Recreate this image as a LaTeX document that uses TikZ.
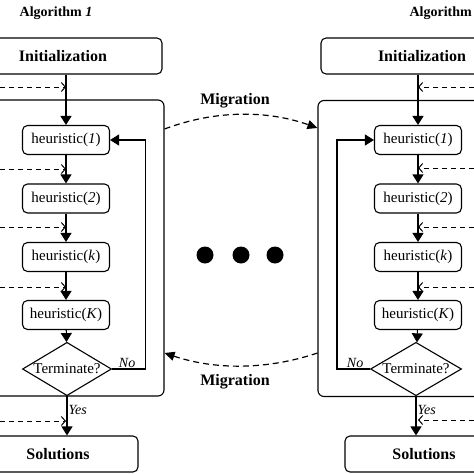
\documentclass[tikz,border=0pt]{standalone}
\usepackage{fontspec}
\setmainfont{Liberation Serif}
\usetikzlibrary{arrows.meta,shapes.geometric,positioning}

\tikzset{
  stage/.style={draw, line width=1.1pt, rounded corners=5pt, minimum height=36pt, font=\fontsize{16}{18}\selectfont\bfseries},
  heur/.style={draw, line width=1.1pt, rounded corners=5pt, minimum width=87pt, minimum height=29pt, font=\fontsize{15}{17}\selectfont},
  test/.style={draw, diamond, line width=1.1pt, inner sep=-6pt, minimum width=89pt, minimum height=37pt, font=\fontsize{15}{17}\selectfont},
  island/.style={draw, line width=1.1pt, rounded corners=6pt, minimum height=296pt},
  flow/.style={line width=1.1pt, -{Triangle[width=11pt,length=9pt]}},
  feed/.style={line width=1pt, dash pattern=on 5pt off 4pt, -{Straight Barb[length=4pt,width=9pt]}},
  migr/.style={line width=1.2pt, dash pattern=on 6pt off 4pt, -{Triangle[width=9pt,length=10pt]}},
  lab/.style={font=\fontsize{14}{16}\selectfont\itshape, inner sep=1pt},
  head/.style={font=\fontsize{14}{16}\selectfont\bfseries},
  mig/.style={font=\fontsize{16}{18}\selectfont\bfseries},
}

\begin{document}
\begin{tikzpicture}[x=1pt,y=-1pt]
\useasboundingbox (0,0) rectangle (474,474);
\clip (0,0) rectangle (474,474);

% Islands
\node[island, minimum width=204pt] (islandL) at (62,248) {};
\node[island, minimum width=202pt] (islandR) at (419,248.5) {};

% Headings
\node[head] (algL) at (56,13) {Algorithm \textit{1}};
\node[head, anchor=west] (algR) at (406,13) {Algorithm};

% Left algorithm
\node[stage, minimum width=198pt] (initL) at (63,56) {Initialization};
\node[heur] (h1L) at (66,140) {heuristic(\textit{1})};
\node[heur] (h2L) at (66,198.5) {heuristic(\textit{2})};
\node[heur] (hkL) at (66,257) {heuristic(\textit{k})};
\node[heur] (hKL) at (66,315) {heuristic(\textit{K})};
\node[test] (termL) at (67,369) {Terminate?};
\node[stage, minimum width=160pt] (solL) at (58,454) {Solutions};

% Right algorithm
\node[stage, minimum width=202pt] (initR) at (422,56) {Initialization};
\node[heur] (h1R) at (418,140) {heuristic(\textit{1})};
\node[heur] (h2R) at (418,198.5) {heuristic(\textit{2})};
\node[heur] (hkR) at (418,257) {heuristic(\textit{k})};
\node[heur] (hKR) at (418,315) {heuristic(\textit{K})};
\node[test, minimum width=91pt] (termR) at (416,369) {Terminate?};
\node[stage, minimum width=158pt] (solR) at (424,454) {Solutions};

% Flow, left
\draw[flow] (h1L.north |- initL.south) -- (h1L.north);
\draw[flow] (h1L) -- (h2L);
\draw[flow] (h2L) -- (hkL);
\draw[flow] (hkL) -- (hKL);
\draw[flow] (hKL) -- (termL);
\draw[flow] (termL.south) -- node[lab, right, pos=0.35] {Yes} (termL.south |- solL.north);
\draw[flow] (termL.east) -- node[lab, above, pos=0.45] {No} ++(33.5,0) |- (h1L.east);

% Flow, right
\draw[flow] (h1R.north |- initR.south) -- (h1R.north);
\draw[flow] (h1R) -- (h2R);
\draw[flow] (h2R) -- (hkR);
\draw[flow] (hkR) -- (hKR);
\draw[flow] (hKR) -- (termR);
\draw[flow] (termR.south) -- node[lab, right, pos=0.35] {Yes} (termR.south |- solR.north);
\draw[flow] (termR.west) -- node[lab, above, pos=0.45] {No} ++(-33,0) |- (h1R.west);

% Incoming dashed feeds
\foreach \y [count=\i] in {87,169,227,287,421} {
  \coordinate (fL\i) at (0,\y);
  \draw[feed] (fL\i) -- (fL\i -| h1L.center);
}
\foreach \y [count=\i] in {87,168,227,287,420} {
  \coordinate (fR\i) at (474,\y);
  \draw[feed] (fR\i) -- (fR\i -| h1R.center);
}

% Migration
\draw[migr] (islandL.east |- 0,129) .. controls (215,110) and (267,110) .. (islandR.west |- 0,128);
\draw[migr] (islandR.west |- 0,353) .. controls (267,370) and (215,370) .. (islandL.east |- 0,353);
\node[mig] (migT) at (235,101) {Migration};
\node[mig] (migB) at (235,382) {Migration};

% Dots
\fill (205,255) circle (8.5);
\fill (241,255) circle (8.5);
\fill (275,255) circle (8.5);
\end{tikzpicture}
\end{document}
